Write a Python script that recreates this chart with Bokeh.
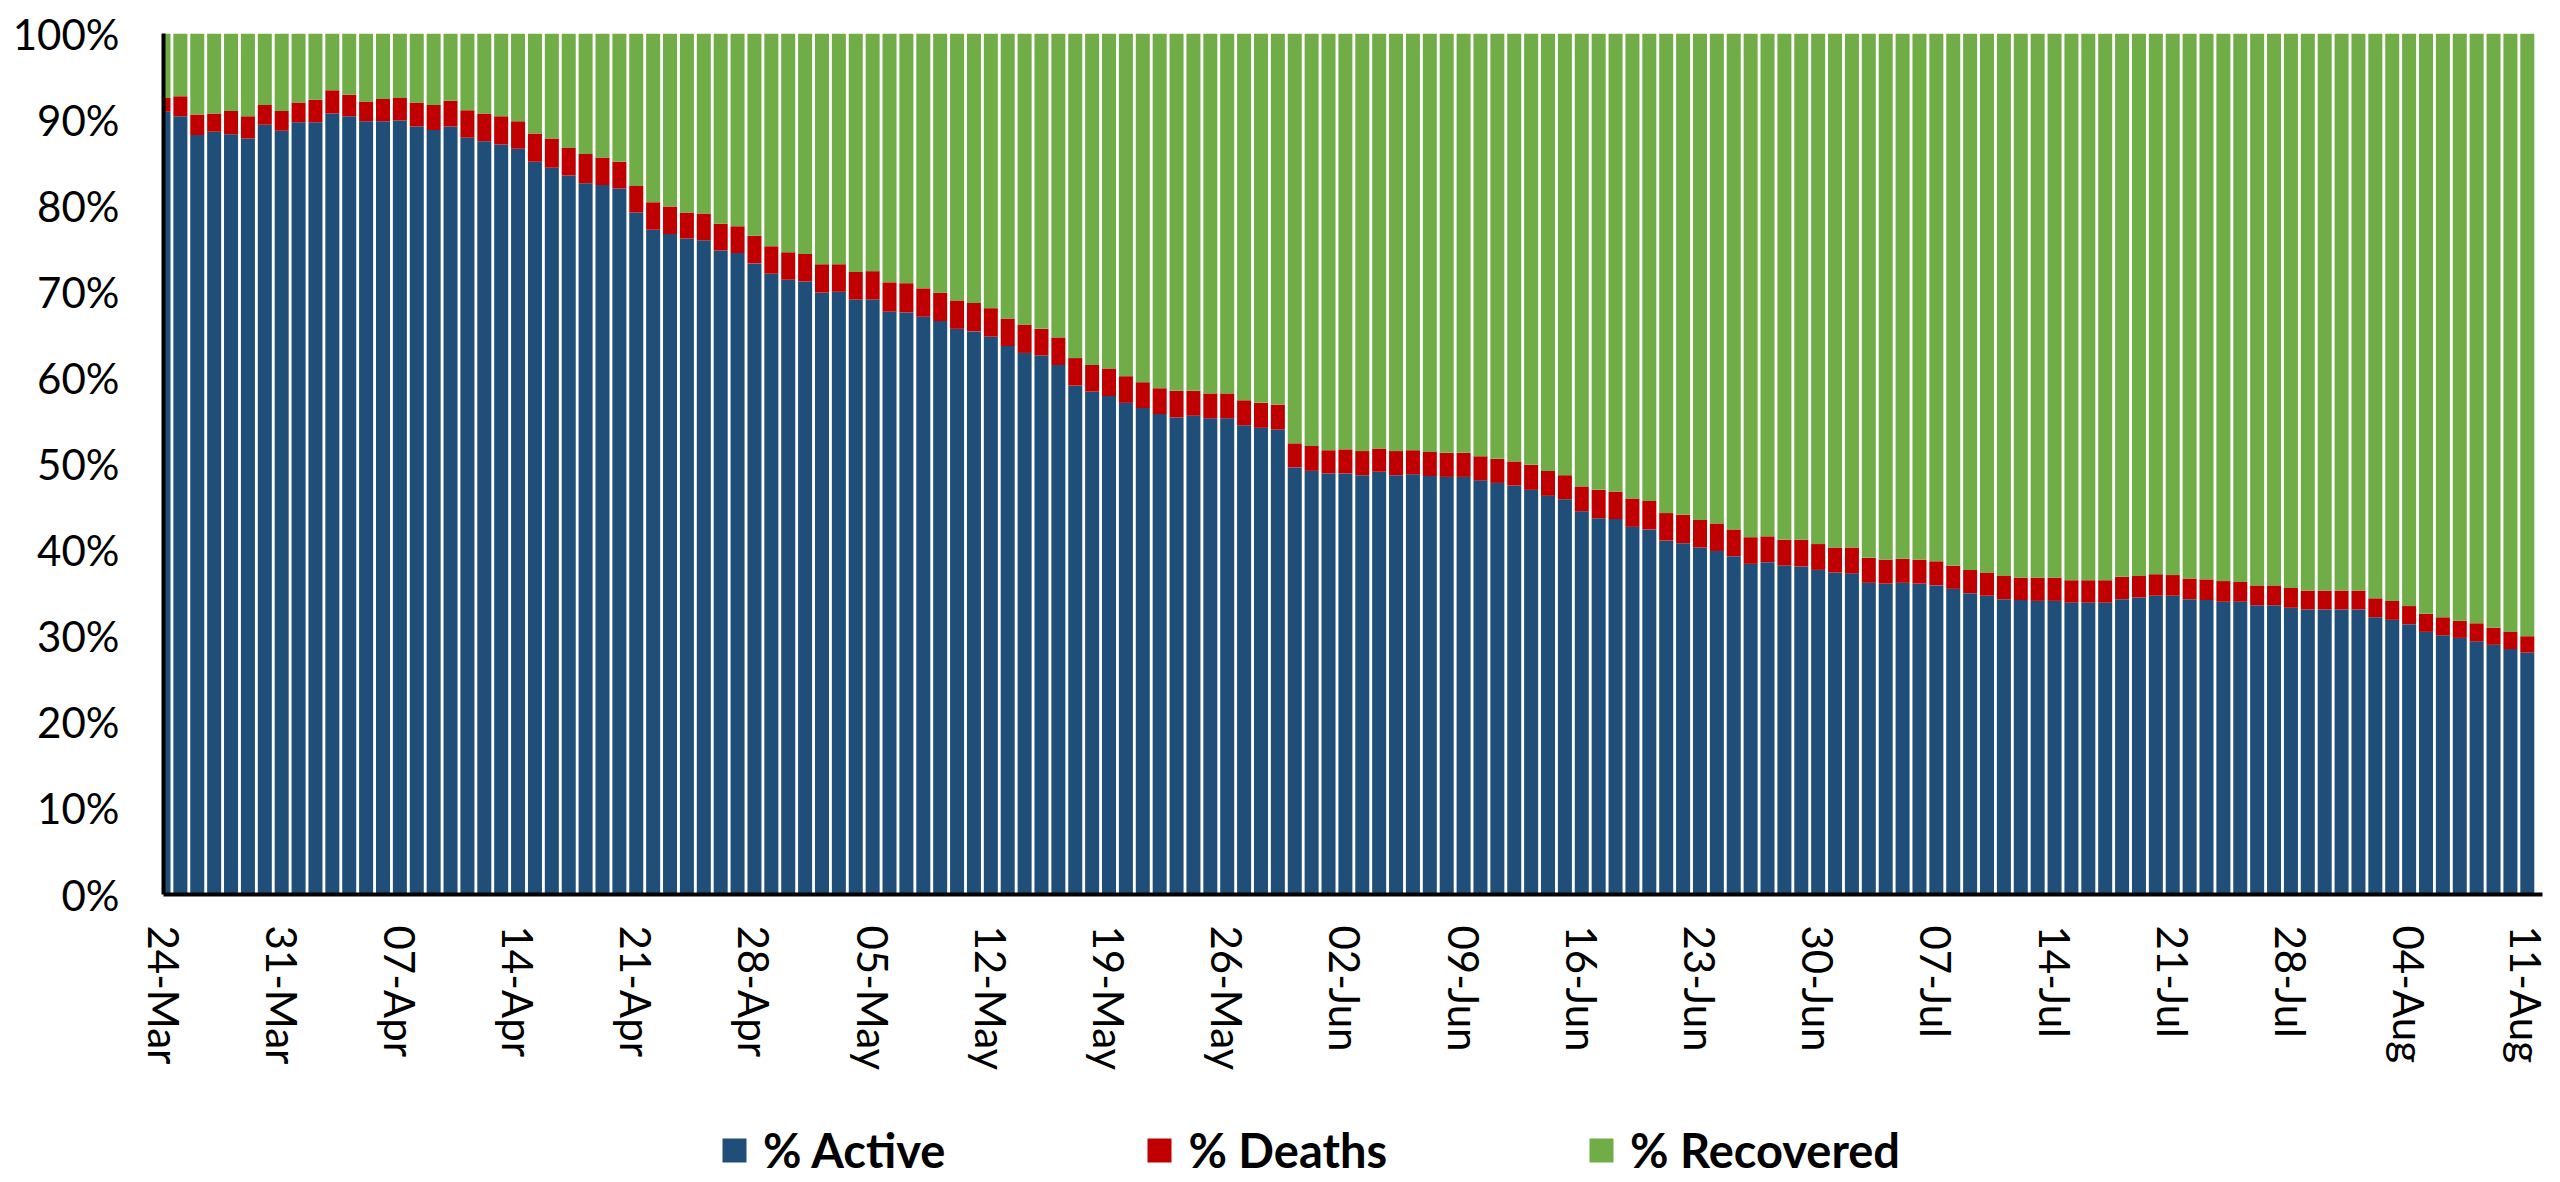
import pandas as pd
from bokeh.plotting import figure
from bokeh.layouts import column
from bokeh.models import (ColumnDataSource, FixedTicker, PrintfTickFormatter,
                          Range1d, Legend, LegendItem)
from bokeh.embed import file_html
from bokeh.resources import INLINE

# ---------------- data ----------------
dates = pd.date_range("2020-03-24", "2020-08-11", freq="D")
date_labels = [d.strftime("%d-%b") for d in dates]

active = [
    90.9, 90.4, 88.2, 88.6, 88.3, 87.8, 89.4, 88.7, 89.7, 89.7,
    90.7, 90.4, 89.8, 89.8, 89.9, 89.2, 88.8, 89.2, 87.9, 87.5,
    87.1, 86.6, 85.1, 84.4, 83.5, 82.6, 82.4, 82.0, 79.2, 77.2,
    76.7, 76.2, 76.0, 74.8, 74.5, 73.3, 72.1, 71.4, 71.2, 69.9,
    70.0, 69.1, 69.1, 67.7, 67.6, 67.1, 66.6, 65.7, 65.4, 64.8,
    63.7, 62.9, 62.6, 61.5, 59.1, 58.4, 57.9, 57.1, 56.5, 55.8,
    55.4, 55.6, 55.3, 55.3, 54.5, 54.2, 54.0, 49.6, 49.2, 48.9,
    48.9, 48.7, 49.1, 48.7, 48.8, 48.6, 48.5, 48.5, 48.1, 47.8,
    47.5, 47.0, 46.3, 45.9, 44.5, 43.7, 43.6, 42.7, 42.4, 41.1,
    40.8, 40.3, 39.9, 39.3, 38.4, 38.6, 38.2, 38.1, 37.7, 37.4,
    37.3, 36.2, 36.1, 36.2, 36.1, 35.9, 35.5, 35.0, 34.7, 34.3,
    34.2, 34.1, 34.1, 33.9, 33.9, 33.9, 34.3, 34.5, 34.7, 34.7,
    34.3, 34.2, 34.0, 34.0, 33.6, 33.6, 33.3, 33.1, 33.1, 33.1,
    33.1, 32.2, 31.9, 31.4, 30.5, 30.1, 29.8, 29.4, 29.0, 28.5,
    28.1,
]
deaths = [
    1.6, 2.3, 2.4, 2.1, 2.7, 2.6, 2.3, 2.3, 2.3, 2.6,
    2.7, 2.5, 2.3, 2.6, 2.6, 2.8, 2.9, 3.0, 3.2, 3.2,
    3.3, 3.2, 3.3, 3.4, 3.2, 3.4, 3.2, 3.1, 3.1, 3.2,
    3.2, 3.0, 3.1, 3.1, 3.1, 3.2, 3.2, 3.2, 3.2, 3.3,
    3.2, 3.2, 3.3, 3.4, 3.4, 3.3, 3.3, 3.3, 3.3, 3.3,
    3.2, 3.3, 3.1, 3.2, 3.2, 3.1, 3.2, 3.1, 3.0, 3.0,
    3.1, 2.9, 2.9, 2.9, 2.9, 2.9, 2.9, 2.8, 2.9, 2.7,
    2.8, 2.8, 2.7, 2.8, 2.8, 2.8, 2.8, 2.8, 2.8, 2.8,
    2.8, 2.9, 2.9, 2.8, 2.9, 3.3, 3.2, 3.3, 3.3, 3.2,
    3.3, 3.2, 3.2, 3.1, 3.1, 3.0, 3.0, 3.1, 3.0, 2.9,
    3.0, 2.9, 2.8, 2.8, 2.8, 2.8, 2.7, 2.7, 2.7, 2.7,
    2.6, 2.7, 2.7, 2.6, 2.6, 2.6, 2.6, 2.5, 2.5, 2.4,
    2.4, 2.4, 2.4, 2.3, 2.3, 2.3, 2.3, 2.2, 2.2, 2.2,
    2.2, 2.2, 2.2, 2.1, 2.1, 2.1, 2.0, 2.1, 2.0, 2.0,
    1.9,
]
recovered = [round(100 - a - d, 1) for a, d in zip(active, deaths)]

series_names = ["% Active", "% Deaths", "% Recovered"]
series_colors = ["#1F4E79", "#C00000", "#70AD47"]
y_ticks = [0, 10, 20, 30, 40, 50, 60, 70, 80, 90, 100]
x_tick_step = 7

W = 2550

# ---------------- main chart ----------------
x_idx = list(range(len(date_labels)))
src = ColumnDataSource(dict(x=x_idx, active=active, deaths=deaths,
                            recovered=recovered))

p = figure(width=W, height=1088, output_backend="svg",
           toolbar_location=None,
           x_range=Range1d(0, len(date_labels) - 0.1),
           y_range=Range1d(0, 100),
           min_border_left=163, min_border_right=8,
           min_border_top=33, min_border_bottom=194)
p.outline_line_color = None
p.background_fill_color = "white"
p.border_fill_color = "white"
p.xgrid.visible = False
p.ygrid.visible = False

p.vbar_stack(["active", "deaths", "recovered"], x="x", width=0.83,
             color=series_colors, line_color=None, source=src)

tick_font = "Lato"
p.yaxis.ticker = FixedTicker(ticks=y_ticks)
p.yaxis.formatter = PrintfTickFormatter(format="%d%%")
p.xaxis.ticker = FixedTicker(ticks=x_idx[::x_tick_step])
p.xaxis.major_label_overrides = {i: date_labels[i] for i in x_idx[::x_tick_step]}
p.xaxis.major_label_orientation = "vertical"

for ax in (p.xaxis[0], p.yaxis[0]):
    ax.axis_line_color = "black"
    ax.axis_line_width = 4
    ax.major_tick_line_color = None
    ax.minor_tick_line_color = None
    ax.major_tick_out = 0
    ax.major_tick_in = 0
    ax.major_label_text_font = tick_font
    ax.major_label_text_font_size = "42px"
    ax.major_label_text_color = "black"
p.yaxis.major_label_standoff = 44
p.xaxis.major_label_standoff = 31

# ---------------- legend strip below the chart ----------------
q = figure(width=W, height=92, output_backend="svg", toolbar_location=None,
           x_range=Range1d(0, 1), y_range=Range1d(0, 1),
           x_axis_location=None, y_axis_location=None,
           min_border_left=0, min_border_right=0,
           min_border_top=0, min_border_bottom=0)
q.outline_line_color = None
q.xgrid.visible = False
q.ygrid.visible = False

# zero-height bars: only used to give each legend entry its colour swatch
legend_renderers = [
    q.vbar(x=[0.5], top=[0], bottom=[0], width=0.1, color=c, line_color=None)
    for c in series_colors
]
legend = Legend(
    items=[LegendItem(label=n, renderers=[r])
           for n, r in zip(series_names, legend_renderers)],
    orientation="horizontal", location=(556, 2),
    glyph_width=30, glyph_height=30, label_standoff=14, spacing=199,
    padding=0, margin=0,
    label_text_font="Lato", label_text_font_style="bold",
    label_text_font_size="47px", label_text_color="black",
    border_line_color=None, background_fill_alpha=0,
)
q.add_layout(legend)

layout = column(p, q, spacing=0)
open("out.html", "w").write(file_html(layout, INLINE))
